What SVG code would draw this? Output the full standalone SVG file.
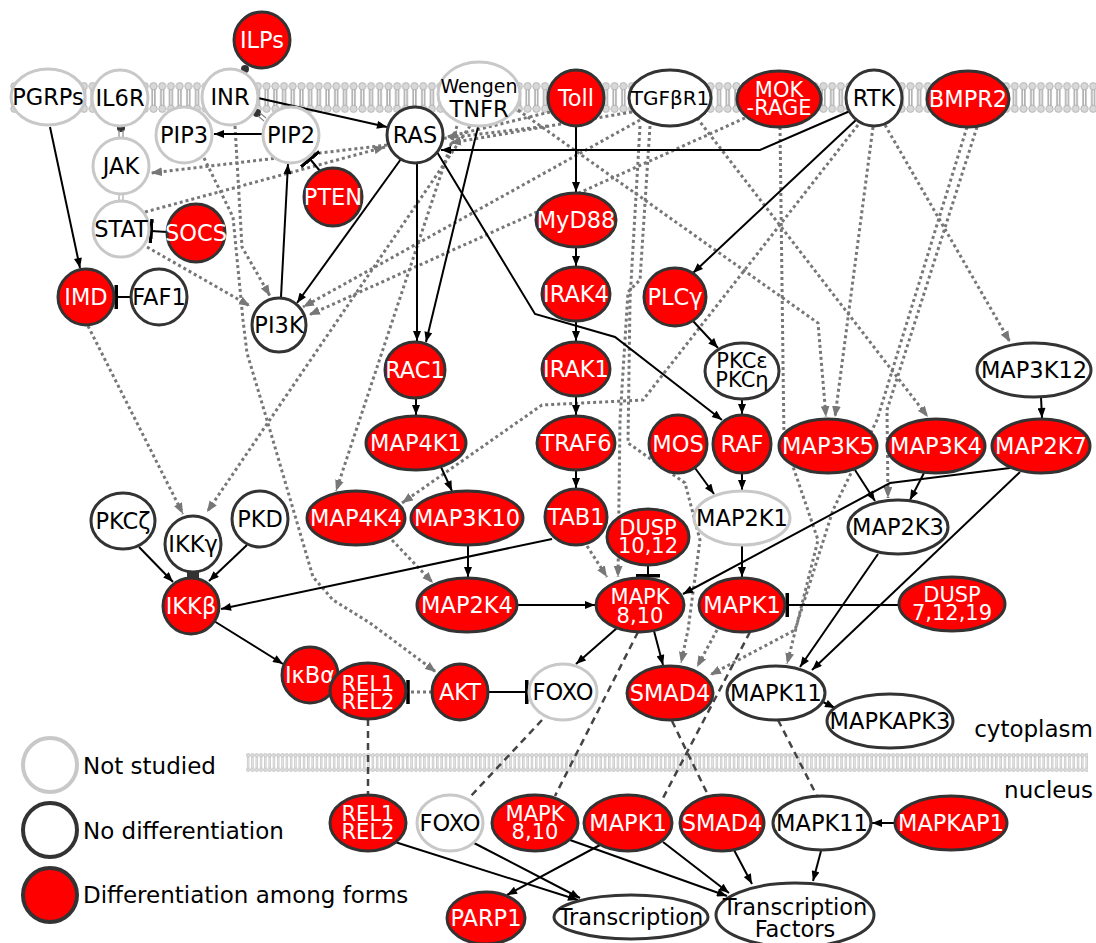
<svg xmlns="http://www.w3.org/2000/svg" width="1096" height="943" viewBox="0 0 1096 943">
<defs>
<style>
.lt{fill:#fff;stroke:#c8c8c8;stroke-width:3}
.nd{fill:#fff;stroke:#333;stroke-width:3}
.df{fill:#f00;stroke:#333;stroke-width:3}
text{font-family:"DejaVu Sans","Liberation Sans",sans-serif;font-size:22.5px;text-anchor:middle;fill:#000}
.w{fill:#fff}
.two{font-size:21px}
.s{stroke:#000;stroke-width:2;fill:none;marker-end:url(#ah)}
.t{stroke:#000;stroke-width:2;fill:none;marker-end:url(#tb)}
.d{stroke:#777;stroke-width:3;stroke-dasharray:3 3;fill:none;marker-end:url(#ag)}
.k{stroke:#444;stroke-width:2.5;stroke-dasharray:7 5;fill:none}
.leg{text-anchor:start;font-size:23px}
</style>
<marker id="ah" viewBox="0 0 10 8" refX="10" refY="4" markerWidth="11" markerHeight="8" orient="auto" markerUnits="userSpaceOnUse"><path d="M0,0 L10,4 L0,8 z" fill="#000"/></marker>
<marker id="ag" viewBox="0 0 10 8" refX="10" refY="4" markerWidth="11" markerHeight="9" orient="auto" markerUnits="userSpaceOnUse"><path d="M0,0 L10,4 L0,8 z" fill="#777"/></marker>
<marker id="tb" viewBox="0 0 4 24" refX="2" refY="12" markerWidth="4" markerHeight="24" orient="auto" markerUnits="userSpaceOnUse"><rect x="0" y="0" width="3.5" height="24" fill="#000"/></marker>
<pattern id="memT" x="10" y="82" width="8.7" height="31" patternUnits="userSpaceOnUse">
<line x1="3" y1="7" x2="3" y2="24" stroke="#999" stroke-width="1.3"/>
<line x1="5.7" y1="7" x2="5.7" y2="24" stroke="#999" stroke-width="1.3"/>
<circle cx="4.35" cy="4.2" r="3.6" fill="#d8d8d8" stroke="#aaa" stroke-width="0.8"/>
<circle cx="4.35" cy="26.8" r="3.6" fill="#d8d8d8" stroke="#aaa" stroke-width="0.8"/>
</pattern>
<pattern id="memB" x="246" y="753" width="4.3" height="19" patternUnits="userSpaceOnUse">
<line x1="1.5" y1="4" x2="1.5" y2="15" stroke="#aaa" stroke-width="0.7"/>
<line x1="2.8" y1="4" x2="2.8" y2="15" stroke="#aaa" stroke-width="0.7"/>
<circle cx="2.15" cy="2.2" r="1.8" fill="#ddd" stroke="#aaa" stroke-width="0.5"/>
<circle cx="2.15" cy="16.8" r="1.8" fill="#ddd" stroke="#aaa" stroke-width="0.5"/>
</pattern>
</defs>
<rect width="1096" height="943" fill="#fff"/>
<g id="membranes">
<rect x="10" y="82" width="1086" height="31" fill="url(#memT)"/>
<rect x="246" y="753" width="842" height="19" fill="url(#memB)"/>
</g>
<g id="connectors">
<path class="d" d="M235,126 L242,247 L270,296"/>
<path class="d" d="M204,158 L233,217 L243,320 L247,353 L267,420 L313,577 L333,600 L370,623 L436,672"/>
<path class="d" d="M147,247 L250,306"/>
<path class="d" d="M145,212 L385,147"/>
<path class="d" d="M548,126 L151,173"/>
<path class="d" d="M640,120 L303,307"/>
<path class="d" d="M745,118 L309,315"/>
<path class="d" d="M550,112 L447,137"/>
<path class="d" d="M632,112 L450,143"/>
<path class="d" d="M470,126 L207,512"/>
<path class="d" d="M457,126 L336,491"/>
<path class="d" d="M88,326 L183,514"/>
<path class="d" d="M518,110 L818,323 L826,417"/>
<path class="d" d="M697,118 L928,417"/>
<path class="d" d="M873,127 L835,417"/>
<path class="d" d="M885,125 L1010,342"/>
<path class="d" d="M858,125 L643,400 L542,405 L402,503"/>
<path class="d" d="M977,127 L887,410 L888,498"/>
<path class="d" d="M967,127 L877,420 L833,510 L795,630 L710,675"/>
<path class="d" d="M780,127 L784,440 L818,540 L787,664"/>
<path class="d" d="M650,126 L640,280 L628,292 L620,420 L618,577"/>
<path class="d" d="M640,126 L630,300 L628,443 L685,483 L700,540 L688,630 L681,663"/>
<path class="d" d="M717,630 L697,667"/>
<path class="d" d="M587,546 L607,577"/>
<path class="d" d="M392,540 L433,583"/>
<path d="M432,692 L410,692" stroke="#777" stroke-width="3" stroke-dasharray="3 3" fill="none"/>
<line x1="408" y1="680" x2="408" y2="704" stroke="#000" stroke-width="3.5"/>
<path class="k" d="M368,719 L368,795"/>
<path class="k" d="M542,720 L470,797"/>
<path class="k" d="M638,632 L555,796"/>
<path class="k" d="M750,632 L662,800"/>
<path class="k" d="M672,721 L708,795"/>
<path class="k" d="M778,720 L817,796"/>
<path class="s" d="M50,127 L80,268"/>
<path class="s" d="M258,98 L387,127"/>
<path class="s" d="M262,134 L214,134"/>
<path class="s" d="M281,297 L288,164"/>
<path class="s" d="M401,159 L297,303"/>
<path class="s" d="M417,163 L417,341"/>
<path class="s" d="M478,127 L426,342"/>
<path class="s" d="M437,152 L535,314 L615,337 L722,420"/>
<path class="s" d="M850,111 L760,150 L441,150"/>
<path class="s" d="M856,120 L693,273"/>
<path class="s" d="M576,127 L576,192"/>
<path class="s" d="M576,247 L576,266"/>
<path class="s" d="M576,321 L576,341"/>
<path class="s" d="M576,396 L576,415"/>
<path class="s" d="M576,470 L576,488"/>
<path class="s" d="M416,398 L416,415"/>
<path class="s" d="M441,467 L452,491"/>
<path class="s" d="M468,545 L468,577"/>
<path class="s" d="M517,605 L595,605"/>
<path class="s" d="M693,321 L718,348"/>
<path class="s" d="M742,399 L742,414"/>
<path class="s" d="M695,468 L714,494"/>
<path class="s" d="M742,473 L742,490"/>
<path class="s" d="M742,545 L742,577"/>
<path class="s" d="M1010,468 L890,483 L683,594"/>
<path class="s" d="M1020,472 L812,670"/>
<path class="s" d="M855,470 L875,501"/>
<path class="s" d="M924,473 L910,500"/>
<path class="s" d="M1041,397 L1042,418"/>
<path class="s" d="M878,554 L800,667"/>
<path class="s" d="M552,539 L221,609"/>
<path class="s" d="M139,547 L173,582"/>
<path class="s" d="M247,545 L209,581"/>
<path class="s" d="M214,621 L283,664"/>
<path class="s" d="M617,628 L576,664"/>
<path class="s" d="M654,631 L663,665"/>
<path class="s" d="M817,699 L835,708"/>
<path class="s" d="M895,823 L872,823"/>
<path class="s" d="M395,842 L578,900"/>
<path class="s" d="M474,843 L580,898"/>
<path class="s" d="M600,845 L507,895"/>
<path class="s" d="M570,840 L727,896"/>
<path class="s" d="M663,842 L729,893"/>
<path class="s" d="M734,850 L752,884"/>
<path class="s" d="M821,851 L813,881"/>
<path class="t" d="M320,171 L310,159"/>
<path class="t" d="M167,232 L151,231"/>
<path class="t" d="M131,297 L116,297"/>
<path class="t" d="M648,565 L648,576"/>
<path class="t" d="M899,605 L787,605"/>
<path class="t" d="M488,692 L527,692"/>
<circle cx="245" cy="69" r="4" fill="#333"/>
<circle cx="121" cy="128" r="4" fill="#333"/>
<path d="M119,130 L119,139 M123,130 L123,139" stroke="#888" stroke-width="1.2"/>
<circle cx="257" cy="113" r="4" fill="#333"/>
<path d="M258,116 L264,121 M260,113 L266,118" stroke="#888" stroke-width="1.2"/>
<path d="M119,194 L119,201 M123,194 L123,201" stroke="#aaa" stroke-width="1.2"/>
<rect x="187" y="570" width="12" height="9" fill="#333"/>
</g>
<g id="n-ILPs"><circle class="df" cx="262" cy="40" r="28"/><text class="w" x="262" y="48">ILPs</text></g>
<g id="n-PGRPs"><ellipse class="lt" cx="48" cy="97" rx="37" ry="28"/><text x="48" y="105">PGRPs</text></g>
<g id="n-IL6R"><circle class="lt" cx="120" cy="98" r="28"/><text x="120" y="106">IL6R</text></g>
<g id="n-INR"><circle class="lt" cx="230" cy="97" r="28"/><text x="230" y="105">INR</text></g>
<g id="n-PIP3"><circle class="lt" cx="184" cy="135" r="28"/><text x="184" y="143">PIP3</text></g>
<g id="n-PIP2"><circle class="lt" cx="291" cy="135" r="28"/><text x="291" y="143">PIP2</text></g>
<g id="n-JAK"><circle class="lt" cx="121" cy="166" r="28"/><text x="121" y="174">JAK</text></g>
<g id="n-STAT"><circle class="lt" cx="121" cy="229" r="28"/><text x="121" y="237">STAT</text></g>
<g id="n-SOCS"><circle class="df" cx="196" cy="233" r="29"/><text class="w" x="196" y="241">SOCS</text></g>
<g id="n-PTEN"><circle class="df" cx="333" cy="197" r="29"/><text class="w" x="333" y="205">PTEN</text></g>
<g id="n-IMD"><circle class="df" cx="86" cy="297" r="28"/><text class="w" x="86" y="305">IMD</text></g>
<g id="n-FAF1"><circle class="nd" cx="159" cy="297" r="28"/><text x="159" y="305">FAF1</text></g>
<g id="n-PI3K"><circle class="nd" cx="279" cy="325" r="27"/><text x="279" y="333">PI3K</text></g>
<g id="n-RAS"><circle class="nd" cx="415" cy="135" r="28"/><text x="415" y="143">RAS</text></g>
<g id="n-TNFR"><ellipse class="lt" cx="479" cy="94" rx="41" ry="32"/><text x="479" y="93" style="font-size:19px">Wengen</text><text x="479" y="117">TNFR</text></g>
<g id="n-Toll"><circle class="df" cx="576" cy="98" r="28"/><text class="w" x="576" y="106">Toll</text></g>
<g id="n-TGFBR1"><ellipse class="nd" cx="670" cy="98" rx="41" ry="28"/><text x="670" y="105" style="font-size:20px">TGFβR1</text></g>
<g id="n-MOKRAGE"><ellipse class="df" cx="779" cy="99" rx="42" ry="28"/><text class="w two" x="779" y="97">MOK</text><text class="w two" x="779" y="115">-RAGE</text></g>
<g id="n-RTK"><circle class="nd" cx="874" cy="98" r="28"/><text x="874" y="106">RTK</text></g>
<g id="n-BMPR2"><ellipse class="df" cx="968" cy="99" rx="41" ry="28"/><text class="w" x="968" y="107">BMPR2</text></g>
<g id="n-MyD88"><ellipse class="df" cx="576" cy="220" rx="40" ry="27"/><text class="w" x="576" y="228">MyD88</text></g>
<g id="n-IRAK4"><ellipse class="df" cx="576" cy="294" rx="34" ry="27"/><text class="w" x="576" y="302">IRAK4</text></g>
<g id="n-PLCg"><ellipse class="df" cx="675" cy="297" rx="31" ry="29"/><text class="w" x="675" y="305">PLCγ</text></g>
<g id="n-PKCen"><ellipse class="nd" cx="742" cy="371" rx="37" ry="28"/><text class="two" x="742" y="368">PKCε</text><text class="two" x="742" y="387">PKCη</text></g>
<g id="n-RAC1"><ellipse class="df" cx="415" cy="370" rx="30" ry="28"/><text class="w" x="415" y="378">RAC1</text></g>
<g id="n-IRAK1"><ellipse class="df" cx="576" cy="369" rx="34" ry="27"/><text class="w" x="576" y="377">IRAK1</text></g>
<g id="n-MAP4K1"><ellipse class="df" cx="416" cy="443" rx="50" ry="27"/><text class="w" x="416" y="451">MAP4K1</text></g>
<g id="n-TRAF6"><ellipse class="df" cx="576" cy="443" rx="39" ry="27"/><text class="w" x="576" y="451">TRAF6</text></g>
<g id="n-MOS"><circle class="df" cx="678" cy="444" r="29"/><text class="w" x="678" y="452">MOS</text></g>
<g id="n-RAF"><circle class="df" cx="742" cy="444" r="29"/><text class="w" x="742" y="452">RAF</text></g>
<g id="n-MAP3K5"><ellipse class="df" cx="828" cy="446" rx="49" ry="27"/><text class="w" x="828" y="454">MAP3K5</text></g>
<g id="n-MAP3K4"><ellipse class="df" cx="936" cy="446" rx="49" ry="27"/><text class="w" x="936" y="454">MAP3K4</text></g>
<g id="n-MAP2K7"><ellipse class="df" cx="1041" cy="446" rx="49" ry="27"/><text class="w" x="1041" y="454">MAP2K7</text></g>
<g id="n-MAP3K12"><ellipse class="nd" cx="1034" cy="370" rx="57" ry="27"/><text x="1034" y="378">MAP3K12</text></g>
<g id="n-MAP4K4"><ellipse class="df" cx="356" cy="518" rx="49" ry="27"/><text class="w" x="356" y="526">MAP4K4</text></g>
<g id="n-MAP3K10"><ellipse class="df" cx="467" cy="518" rx="56" ry="27"/><text class="w" x="467" y="526">MAP3K10</text></g>
<g id="n-TAB1"><ellipse class="df" cx="576" cy="517" rx="31" ry="28"/><text class="w" x="576" y="525">TAB1</text></g>
<g id="n-DUSP1012"><ellipse class="df" cx="648" cy="537" rx="41" ry="28"/><text class="w two" x="648" y="535">DUSP</text><text class="w two" x="648" y="553">10,12</text></g>
<g id="n-MAP2K1"><ellipse class="lt" cx="742" cy="518" rx="48" ry="27"/><text x="742" y="526">MAP2K1</text></g>
<g id="n-MAP2K3"><ellipse class="nd" cx="898" cy="527" rx="50" ry="27"/><text x="898" y="535">MAP2K3</text></g>
<g id="n-PKCz"><ellipse class="nd" cx="123" cy="521" rx="32" ry="28"/><text x="123" y="529">PKCζ</text></g>
<g id="n-IKKg"><circle class="nd" cx="193" cy="544" r="28"/><text x="193" y="552">IKKγ</text></g>
<g id="n-PKD"><circle class="nd" cx="260" cy="519" r="28"/><text x="260" y="527">PKD</text></g>
<g id="n-IKKb"><circle class="df" cx="191" cy="606" r="28"/><text class="w" x="191" y="614">IKKβ</text></g>
<g id="n-MAP2K4"><ellipse class="df" cx="467" cy="605" rx="50" ry="27"/><text class="w" x="467" y="613">MAP2K4</text></g>
<g id="n-MAPK810"><ellipse class="df" cx="640" cy="605" rx="44" ry="27"/><text class="w two" x="640" y="604">MAPK</text><text class="w two" x="640" y="623">8,10</text></g>
<g id="n-MAPK1"><ellipse class="df" cx="742" cy="605" rx="43" ry="27"/><text class="w" x="742" y="613">MAPK1</text></g>
<g id="n-DUSP71219"><ellipse class="df" cx="952" cy="604" rx="53" ry="27"/><text class="w two" x="952" y="602">DUSP</text><text class="w two" x="952" y="620">7,12,19</text></g>
<g id="n-IkBa"><circle class="df" cx="310" cy="675" r="28"/><text class="w" x="310" y="683">IκBα</text></g>
<g id="n-REL-c"><ellipse class="df" cx="368" cy="691" rx="38" ry="28"/><text class="w two" x="368" y="691">REL1</text><text class="w two" x="368" y="709">REL2</text></g>
<g id="n-AKT"><circle class="df" cx="460" cy="692" r="28"/><text class="w" x="460" y="700">AKT</text></g>
<g id="n-FOXO-c"><ellipse class="lt" cx="563" cy="692" rx="34" ry="28"/><text x="563" y="700">FOXO</text></g>
<g id="n-SMAD4-c"><ellipse class="df" cx="670" cy="693" rx="43" ry="27"/><text class="w" x="670" y="701">SMAD4</text></g>
<g id="n-MAPK11-c"><ellipse class="nd" cx="776" cy="693" rx="49" ry="27"/><text x="776" y="701">MAPK11</text></g>
<g id="n-MAPKAPK3"><ellipse class="nd" cx="890" cy="721" rx="63" ry="27"/><text x="890" y="729">MAPKAPK3</text></g>
<g id="n-REL-n"><ellipse class="df" cx="368" cy="823" rx="38" ry="28"/><text class="w two" x="368" y="821">REL1</text><text class="w two" x="368" y="839">REL2</text></g>
<g id="n-FOXO-n"><ellipse class="lt" cx="450" cy="823" rx="33" ry="28"/><text x="450" y="831">FOXO</text></g>
<g id="n-MAPK810-n"><ellipse class="df" cx="535" cy="823" rx="43" ry="28"/><text class="w two" x="535" y="821">MAPK</text><text class="w two" x="535" y="839">8,10</text></g>
<g id="n-MAPK1-n"><ellipse class="df" cx="628" cy="823" rx="44" ry="28"/><text class="w" x="628" y="831">MAPK1</text></g>
<g id="n-SMAD4-n"><ellipse class="df" cx="722" cy="823" rx="42" ry="28"/><text class="w" x="722" y="831">SMAD4</text></g>
<g id="n-MAPK11-n"><ellipse class="nd" cx="822" cy="823" rx="49" ry="27"/><text x="822" y="831">MAPK11</text></g>
<g id="n-MAPKAP1"><ellipse class="df" cx="951" cy="823" rx="56" ry="27"/><text class="w" x="951" y="831">MAPKAP1</text></g>
<g id="n-PARP1"><ellipse class="df" cx="486" cy="918" rx="39" ry="26"/><text class="w" x="486" y="926">PARP1</text></g>
<g id="n-Transcription"><ellipse class="nd" cx="631" cy="917" rx="77" ry="22"/><text x="631" y="925">Transcription</text></g>
<g id="n-TF"><ellipse class="nd" cx="795" cy="915" rx="79" ry="32"/><text x="795" y="915">Transcription</text><text x="795" y="937">Factors</text></g>
<g id="labels"><text x="1093" y="737" style="text-anchor:end;font-size:23px">cytoplasm</text><text x="1093" y="798" style="text-anchor:end;font-size:23px">nucleus</text></g>
<g id="legend">
<circle cx="50" cy="765" r="27" fill="#fff" stroke="#c8c8c8" stroke-width="4"/>
<circle cx="50" cy="830" r="27" fill="#fff" stroke="#333" stroke-width="4"/>
<circle cx="50" cy="895" r="27" fill="#f00" stroke="#333" stroke-width="4"/>
<text class="leg" x="83" y="774">Not studied</text>
<text class="leg" x="83" y="839">No differentiation</text>
<text class="leg" x="83" y="903">Differentiation among forms</text>
</g>
</svg>
